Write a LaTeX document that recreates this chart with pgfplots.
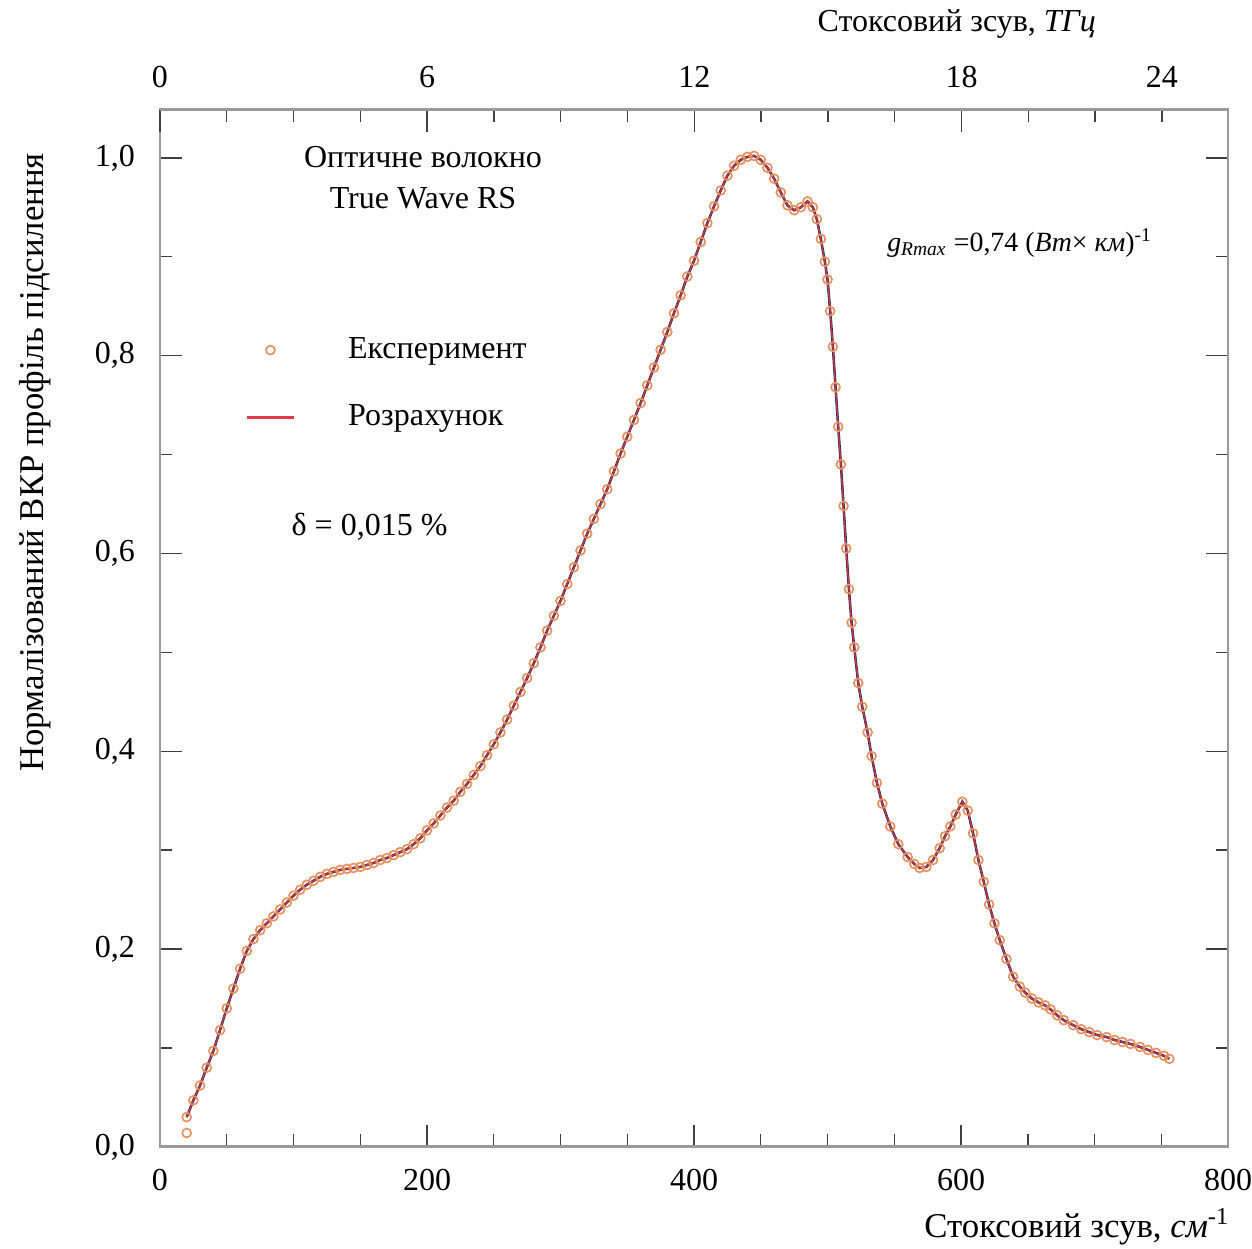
\documentclass[border=0pt]{standalone}
\usepackage{pgfplots}
\usepackage{pgfplotstable}
\pgfplotsset{compat=1.18}
\usepackage{fontspec}
\setmainfont{Liberation Serif}
\definecolor{navyline}{HTML}{1F2A55}
\definecolor{expedge}{HTML}{E8905E}
\definecolor{calcred}{HTML}{E23A48}
\definecolor{axgray}{HTML}{9A9A9A}
\pgfplotstableread{
x y
20 0.030
25 0.047
30 0.062
35 0.080
40 0.097
45 0.118
50 0.140
55 0.160
60 0.180
65 0.198
70 0.210
75 0.219
80 0.226
85 0.233
90 0.240
95 0.247
100 0.254
105 0.260
110 0.265
115 0.269
120 0.273
125 0.276
130 0.278
135 0.280
140 0.281
145 0.282
150 0.283
155 0.285
160 0.287
165 0.290
170 0.292
175 0.295
180 0.298
185 0.301
190 0.306
195 0.312
200 0.320
205 0.327
210 0.335
215 0.343
220 0.350
225 0.359
230 0.367
235 0.376
240 0.385
245 0.396
250 0.407
255 0.419
260 0.432
265 0.446
270 0.460
275 0.474
280 0.489
285 0.505
290 0.522
295 0.537
300 0.552
305 0.569
310 0.586
315 0.603
320 0.620
325 0.635
330 0.650
335 0.665
340 0.683
345 0.701
350 0.718
355 0.735
360 0.752
365 0.770
370 0.788
375 0.806
380 0.824
385 0.843
390 0.861
395 0.880
400 0.896
405 0.915
410 0.934
415 0.951
420 0.967
425 0.982
430 0.992
435 0.998
440 1.001
445 1.002
450 0.998
455 0.990
460 0.979
465 0.965
470 0.952
475 0.947
480 0.950
485 0.956
489 0.950
492 0.938
495 0.918
498 0.895
500 0.877
502 0.845
504 0.809
506 0.768
508 0.728
510 0.690
512 0.648
514 0.605
516 0.564
518 0.530
520 0.505
523 0.469
526 0.445
530 0.419
533 0.395
537 0.368
541 0.347
547 0.324
553 0.306
560 0.293
565 0.286
569 0.282
574 0.283
579 0.290
584 0.302
588 0.314
592 0.324
596 0.336
601 0.349
605 0.340
609 0.317
613 0.290
617 0.268
621 0.245
625 0.226
629 0.209
634 0.190
639 0.172
644 0.162
648 0.156
653 0.150
658 0.146
663 0.143
667 0.139
672 0.133
677 0.128
684 0.123
690 0.119
696 0.116
702 0.113
709 0.111
715 0.108
721 0.106
727 0.104
734 0.101
740 0.098
746 0.095
752 0.092
756 0.089
}\ramandata
\begin{document}
\begin{tikzpicture}
\fontsize{11.5}{13.5}\selectfont
\begin{axis}[
  name=main,
  scale only axis, width=383.9pt, height=372.7pt,
  xmin=0, xmax=800, ymin=0, ymax=1.0485,
  xtick={0,200,400,600,800}, minor x tick num=3,
  ytick={0,0.2,0.4,0.6,0.8,1.0}, minor y tick num=1,
  xtick pos=bottom, ytick pos=both, yticklabel pos=left,
  tick align=inside,
  major tick length=8pt, minor tick length=4.5pt,
  axis line style={axgray, line width=1pt},
  every tick/.style={black!75, line width=0.5pt},
  /pgf/number format/assume math mode=true,
  yticklabel style={/pgf/number format/use comma, /pgf/number format/fixed, /pgf/number format/fixed zerofill, /pgf/number format/precision=1, xshift=-5pt},
  xticklabel style={/pgf/number format/fixed, /pgf/number format/1000 sep={}, yshift=-4pt},
  every tick label/.append style={font=\fontsize{11.5}{13.5}\selectfont},
  xlabel={Стоксовий зсув, \textit{см}\textsuperscript{-1}},
  xlabel style={at={(axis description cs:1.012,-0.087)}, anchor=base east, font=\fontsize{12.5}{14}\selectfont},
  ylabel={Нормалізований ВКР профіль підсилення},
  ylabel style={at={(axis description cs:-0.117,0.66)}, anchor=center, font=\fontsize{12.5}{14}\selectfont},
  legend style={at={(axis cs:63.7,0.7715)}, anchor=west, draw=none, fill=none, inner sep=0pt,
    font=\fontsize{11.5}{13.5}\selectfont, row sep=11pt,
    /tikz/every odd column/.append style={column sep=17pt}},
  legend cell align=left,
  clip=false,
]
\addplot[navyline, line width=0.9pt, forget plot] table {\ramandata};
\addplot[calcred, line width=0.5pt, opacity=0.85, forget plot] table {\ramandata};
\addplot[only marks, mark=o, mark size=1.6pt, mark options={draw=expedge, fill=white, line width=0.6pt}] table {\ramandata};
\addlegendentry{Експеримент}
\addlegendimage{calcred, line width=0.8pt}
\addlegendentry{Розрахунок}
\addplot[only marks, mark=o, mark size=1.6pt, mark options={draw=expedge, fill=white, line width=0.6pt}, forget plot] coordinates {(20,0.014)};
\node[align=center, font=\fontsize{11.5}{15}\selectfont] at (axis cs:197,0.98) {Оптичне волокно\\True Wave RS};
\node[font=\fontsize{11.5}{13.5}\selectfont] at (axis cs:157,0.627) {δ = 0,015 \%};
\node[font=\fontsize{10}{12}\selectfont] at (axis cs:644,0.914) {\textit{g}\textsubscript{\textit{Rmax}} =0,74 (\textit{Вт}× \textit{км})\textsuperscript{-1}};
\end{axis}
\begin{axis}[
  scale only axis, width=383.9pt, height=372.7pt,
  xmin=0, xmax=23.984, ymin=0, ymax=1.0485,
  axis x line*=top, axis y line=none,
  xtick={0,6,12,18},
  minor xtick={1.5,3,4.5,7.5,9,10.5,13.5,15,16.5,19.5,21,22.5},
  extra x ticks={22.5}, extra x tick labels={24},
  extra x tick style={major tick length=0pt},
  tick align=inside,
  major tick length=8pt, minor tick length=4.5pt,
  axis line style={axgray, line width=1pt},
  every tick/.style={black!75, line width=0.5pt},
  /pgf/number format/assume math mode=true,
  every tick label/.append style={font=\fontsize{11.5}{13.5}\selectfont},
  xticklabel style={yshift=4pt},
  xlabel={Стоксовий зсув, \textit{ТГц}},
  xlabel style={at={(axis description cs:0.746,1.0752)}, anchor=base, font=\fontsize{11.5}{13.5}\selectfont},
]
\end{axis}
\pgfresetboundingbox
\path ([shift={(-57.5pt,-36.7pt)}]main.south west) rectangle ([shift={(8.6pt,39.5pt)}]main.north east);
\end{tikzpicture}
\end{document}
